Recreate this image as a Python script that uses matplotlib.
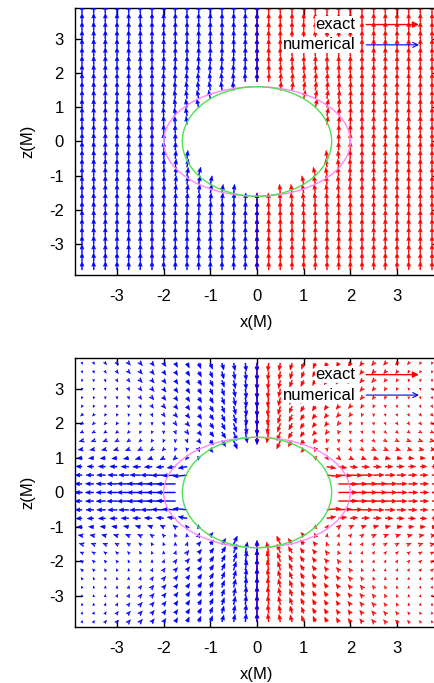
import numpy as np
import matplotlib
matplotlib.use("Agg")
import matplotlib.pyplot as plt
from matplotlib.patches import Ellipse

plt.rcParams['font.family'] = ['Liberation Sans', 'DejaVu Sans']
plt.rcParams['axes.unicode_minus'] = False

nan = np.nan

# grid of the vector plots (one quadrant, x >= 0 and z >= 0), units of M
x_grid = [0, 0.25, 0.5, 0.75, 1.0, 1.25, 1.5, 1.75, 2.0, 2.25, 2.5, 2.75, 3.0, 3.25, 3.5, 3.75]
z_grid = [0, 0.25, 0.5, 0.75, 1.0, 1.25, 1.5, 1.75, 2.0, 2.25, 2.5, 2.75, 3.0, 3.25, 3.5, 3.75]

# horizon and ergosphere
horizon_r = 1.6
ergo_x, ergo_z = 2.0, 1.6

# upper panel: magnetic field arrows, quadrant rows from z=3.75 (top) down to z=0
b_dx = [
    [0, 0, 0, 0, 0, 0, 0, 0, 0, 0, 0, 0, 0, 0, 0, 0],
    [0, 0, 0, 0, 0, 0, 0, 0, 0, 0, 0, 0, 0, 0, 0, 0],
    [0, 0, 0, 0, 0, 0, 0, 0, 0, 0, 0, 0, 0, 0, 0, 0],
    [0, 0, 0, 0, 0, 0, 0, 0, 0, 0, 0, 0, 0, 0, 0, 0],
    [0, 0, 0, 0, 0, 0, 0, 0, 0, 0, 0, 0, 0, 0, 0, 0],
    [0, 0, 0, 0, 0, 0, 0, 0, 0, 0, 0, 0, 0, 0, 0, 0],
    [0, 0, 0.005, 0.005, 0.005, 0.005, 0, 0, 0, 0, 0, 0, 0, 0, 0, 0],
    [0, 0.005, 0.01, 0.012, 0.012, 0.01, 0.008, 0.005, 0, 0, 0, 0, 0, 0, 0, 0],
    [0, 0.01, 0.015, 0.02, 0.02, 0.02, 0.015, 0.01, 0.005, 0, 0, 0, 0, 0, 0, 0],
    [nan, nan, 0.02, 0.025, 0.03, 0.025, 0.02, 0.015, 0.01, 0, 0, 0, 0, 0, 0, 0],
    [nan, nan, nan, nan, 0.04, 0.035, 0.025, 0.02, 0.01, 0, 0, 0, 0, 0, 0, 0],
    [nan, nan, nan, nan, nan, 0.045, 0.03, 0.02, 0.01, 0, 0, 0, 0, 0, 0, 0],
    [nan, nan, nan, nan, nan, nan, 0.03, 0.02, 0.01, 0, 0, 0, 0, 0, 0, 0],
    [nan, nan, nan, nan, nan, nan, 0.02, 0.015, 0.005, 0, 0, 0, 0, 0, 0, 0],
    [nan, nan, nan, nan, nan, nan, nan, 0.005, 0, 0, 0, 0, 0, 0, 0, 0],
    [nan, nan, nan, nan, nan, nan, nan, 0, 0, 0, 0, 0, 0, 0, 0, 0],
]
b_dz = [
    [0.25, 0.25, 0.25, 0.25, 0.25, 0.25, 0.25, 0.25, 0.25, 0.25, 0.25, 0.25, 0.25, 0.25, 0.25, 0.25],
    [0.25, 0.25, 0.25, 0.25, 0.25, 0.25, 0.25, 0.25, 0.25, 0.25, 0.25, 0.25, 0.25, 0.25, 0.25, 0.25],
    [0.25, 0.25, 0.25, 0.25, 0.25, 0.25, 0.25, 0.25, 0.25, 0.25, 0.25, 0.25, 0.25, 0.25, 0.25, 0.25],
    [0.25, 0.25, 0.25, 0.25, 0.25, 0.25, 0.25, 0.25, 0.25, 0.25, 0.25, 0.25, 0.25, 0.25, 0.25, 0.25],
    [0.25, 0.25, 0.25, 0.25, 0.25, 0.25, 0.25, 0.25, 0.25, 0.25, 0.25, 0.25, 0.25, 0.25, 0.25, 0.25],
    [0.25, 0.25, 0.25, 0.25, 0.25, 0.25, 0.25, 0.25, 0.25, 0.25, 0.25, 0.25, 0.25, 0.25, 0.25, 0.25],
    [0.25, 0.25, 0.25, 0.25, 0.25, 0.25, 0.25, 0.25, 0.25, 0.25, 0.25, 0.25, 0.25, 0.25, 0.25, 0.25],
    [0.25, 0.25, 0.25, 0.25, 0.25, 0.25, 0.25, 0.25, 0.25, 0.25, 0.25, 0.25, 0.25, 0.25, 0.25, 0.25],
    [0.25, 0.25, 0.25, 0.25, 0.25, 0.25, 0.25, 0.25, 0.25, 0.25, 0.25, 0.25, 0.25, 0.25, 0.25, 0.25],
    [nan, nan, 0.25, 0.25, 0.25, 0.25, 0.25, 0.25, 0.25, 0.25, 0.25, 0.25, 0.25, 0.25, 0.25, 0.25],
    [nan, nan, nan, nan, 0.25, 0.25, 0.25, 0.25, 0.25, 0.25, 0.25, 0.25, 0.25, 0.25, 0.25, 0.25],
    [nan, nan, nan, nan, nan, 0.25, 0.24, 0.25, 0.25, 0.25, 0.25, 0.25, 0.25, 0.25, 0.25, 0.25],
    [nan, nan, nan, nan, nan, nan, 0.24, 0.24, 0.25, 0.25, 0.25, 0.25, 0.25, 0.25, 0.25, 0.25],
    [nan, nan, nan, nan, nan, nan, 0.24, 0.24, 0.25, 0.25, 0.25, 0.25, 0.25, 0.25, 0.25, 0.25],
    [nan, nan, nan, nan, nan, nan, nan, 0.24, 0.25, 0.25, 0.25, 0.25, 0.25, 0.25, 0.25, 0.25],
    [nan, nan, nan, nan, nan, nan, nan, 0.24, 0.25, 0.25, 0.25, 0.25, 0.25, 0.25, 0.25, 0.25],
]

# lower panel: electric field arrows, same quadrant layout
e_dx = [
    [0, -0.02, -0.03, -0.04, -0.05, -0.05, -0.05, -0.05, -0.05, -0.05, -0.045, -0.04, -0.035, -0.026, -0.017, -0.01],
    [0, -0.02, -0.03, -0.04, -0.05, -0.06, -0.06, -0.05, -0.05, -0.05, -0.045, -0.039, -0.03, -0.019, -0.012, -0.006],
    [0, -0.02, -0.04, -0.05, -0.06, -0.06, -0.06, -0.058, -0.053, -0.049, -0.044, -0.032, -0.021, -0.012, -0.005, 0],
    [0, -0.024, -0.04, -0.05, -0.056, -0.06, -0.064, -0.059, -0.054, -0.048, -0.038, -0.025, -0.013, -0.005, 0.001, 0.007],
    [0, -0.024, -0.043, -0.054, -0.062, -0.065, -0.062, -0.057, -0.053, -0.042, -0.027, -0.014, -0.004, 0.003, 0.008, 0.012],
    [0, -0.028, -0.048, -0.058, -0.065, -0.067, -0.063, -0.057, -0.046, -0.03, -0.015, -0.003, 0.005, 0.01, 0.014, 0.02],
    [0, -0.031, -0.053, -0.065, -0.069, -0.068, -0.06, -0.051, -0.034, -0.015, -0.003, 0.006, 0.012, 0.018, 0.025, 0.031],
    [0, -0.038, -0.063, -0.068, -0.075, -0.068, -0.056, -0.036, -0.016, -0.002, 0.008, 0.015, 0.023, 0.029, 0.033, 0.038],
    [0, -0.045, -0.072, -0.078, -0.075, -0.064, -0.041, -0.017, 0, 0.01, 0.019, 0.026, 0.032, 0.037, 0.041, 0.043],
    [nan, nan, -0.077, -0.083, -0.075, -0.052, -0.018, 0.002, 0.015, 0.025, 0.034, 0.042, 0.049, 0.055, 0.058, 0.064],
    [nan, nan, nan, nan, -0.062, -0.021, 0.007, 0.021, 0.034, 0.045, 0.06, 0.072, 0.078, 0.081, 0.082, 0.083],
    [nan, nan, nan, nan, nan, 0.012, 0.032, 0.054, 0.078, 0.096, 0.11, 0.112, 0.114, 0.113, 0.11, 0.109],
    [nan, nan, nan, nan, nan, nan, 0.19, 0.176, 0.161, 0.164, 0.164, 0.163, 0.157, 0.15, 0.14, 0.133],
    [nan, nan, nan, nan, nan, nan, 0.298, 0.28, 0.26, 0.24, 0.224, 0.213, 0.198, 0.184, 0.167, 0.15],
    [nan, nan, nan, nan, nan, nan, nan, 0.40, 0.355, 0.316, 0.278, 0.248, 0.218, 0.198, 0.178, 0.158],
    [nan, nan, nan, nan, nan, nan, nan, 0.40, 0.36, 0.32, 0.28, 0.25, 0.22, 0.20, 0.18, 0.16],
]
e_dz = [
    [-0.25, -0.24, -0.22, -0.20, -0.18, -0.16, -0.14, -0.12, -0.10, -0.09, -0.075, -0.063, -0.052, -0.05, -0.043, -0.04],
    [-0.26, -0.25, -0.23, -0.21, -0.18, -0.15, -0.13, -0.11, -0.10, -0.085, -0.071, -0.058, -0.054, -0.046, -0.043, -0.04],
    [-0.27, -0.26, -0.24, -0.20, -0.18, -0.15, -0.13, -0.113, -0.096, -0.078, -0.065, -0.055, -0.051, -0.046, -0.042, -0.04],
    [-0.28, -0.27, -0.237, -0.20, -0.171, -0.148, -0.13, -0.11, -0.09, -0.074, -0.061, -0.057, -0.048, -0.045, -0.04, -0.039],
    [-0.29, -0.28, -0.241, -0.203, -0.169, -0.146, -0.122, -0.099, -0.081, -0.065, -0.059, -0.053, -0.048, -0.042, -0.039, -0.038],
    [-0.30, -0.279, -0.245, -0.202, -0.168, -0.137, -0.114, -0.091, -0.069, -0.061, -0.054, -0.05, -0.045, -0.041, -0.039, -0.038],
    [-0.32, -0.298, -0.249, -0.20, -0.155, -0.128, -0.10, -0.076, -0.064, -0.056, -0.05, -0.045, -0.043, -0.041, -0.04, -0.039],
    [-0.34, -0.308, -0.252, -0.188, -0.153, -0.117, -0.086, -0.067, -0.058, -0.052, -0.047, -0.046, -0.045, -0.041, -0.038, -0.032],
    [-0.36, -0.317, -0.25, -0.184, -0.141, -0.102, -0.074, -0.063, -0.055, -0.049, -0.046, -0.042, -0.038, -0.033, -0.029, -0.025],
    [nan, nan, -0.238, -0.171, -0.124, -0.083, -0.068, -0.06, -0.053, -0.049, -0.043, -0.04, -0.035, -0.031, -0.026, -0.023],
    [nan, nan, nan, nan, -0.091, -0.077, -0.065, -0.056, -0.05, -0.047, -0.043, -0.038, -0.031, -0.025, -0.019, -0.015],
    [nan, nan, nan, nan, nan, -0.069, -0.062, -0.063, -0.056, -0.049, -0.04, -0.028, -0.02, -0.014, -0.008, -0.004],
    [nan, nan, nan, nan, nan, nan, -0.05, -0.037, -0.023, -0.014, -0.009, -0.003, 0.003, 0.005, 0.007, 0.007],
    [nan, nan, nan, nan, nan, nan, -0.031, -0.015, -0.005, 0.004, 0.008, 0.007, 0.007, 0.006, 0.006, 0.005],
    [nan, nan, nan, nan, nan, nan, nan, -0.007, 0, 0.004, 0.004, 0.004, 0.003, 0.003, 0.003, 0.002],
    [nan, nan, nan, nan, nan, nan, nan, 0, 0, 0, 0, 0, 0, 0, 0, 0],
]

ticks = [-3, -2, -1, 0, 1, 2, 3]


def unfold(qu, qv, u_zsign, v_zsign):
    # quadrant rows go top->bottom; build the full z range from -3.75 to 3.75
    u = np.array(qu, dtype=float)[::-1]
    v = np.array(qv, dtype=float)[::-1]
    u = np.vstack([u_zsign * u[:0:-1], u])
    v = np.vstack([v_zsign * v[:0:-1], v])
    return u, v


def draw_panel(ax, qu, qv, u_zsign, v_zsign):
    xr = np.array(x_grid)
    zq = np.array(z_grid)
    zf = np.concatenate([-zq[:0:-1], zq])
    u, v = unfold(qu, qv, u_zsign, v_zsign)

    Xr, Z = np.meshgrid(xr, zf)
    Xl, _ = np.meshgrid(-xr[::-1], zf)
    ul, vl = -u[:, ::-1], v[:, ::-1]

    kw = dict(angles='xy', scale_units='xy', scale=1, units='dots', width=1.0,
              headwidth=4, headlength=5, headaxislength=4.5, minshaft=0.6, minlength=0,
              pivot='tail', linewidth=0.3)
    ax.quiver(Xr, Z, u, v, color='#ff0000', edgecolor='#ff0000', zorder=2, **kw)
    ax.quiver(Xl, Z, ul, vl, color='#0000ff', edgecolor='#0000ff', zorder=3, **kw)

    ax.add_patch(Ellipse((0, 0), 2 * ergo_x, 2 * ergo_z, fill=False,
                         ec='#ff88ff', lw=1.0, zorder=4))
    ax.add_patch(Ellipse((0, 0), 2 * horizon_r, 2 * horizon_r, fill=False,
                         ec='#4fe04f', lw=1.0, zorder=5))

    ax.set_xlim(-3.9, 3.9)
    ax.set_ylim(-3.9, 3.9)
    ax.set_xticks(ticks)
    ax.set_yticks(ticks)
    ax.tick_params(direction='in', top=True, right=True, length=5, width=1,
                   labelsize=12, pad=10)
    ax.tick_params(axis='y', pad=8)
    for s in ax.spines.values():
        s.set_linewidth(1.0)
    ax.set_xlabel('x(M)', fontsize=12, labelpad=8)
    ax.set_ylabel('z(M)', fontsize=12, labelpad=10)

    # key
    ax.text(0.77, 0.938, 'exact', transform=ax.transAxes, ha='right', va='center',
            fontsize=12, zorder=6,
            bbox=dict(fc='white', ec='none', pad=0.5))
    ax.text(0.77, 0.862, 'numerical', transform=ax.transAxes, ha='right', va='center',
            fontsize=12, zorder=6,
            bbox=dict(fc='white', ec='none', pad=0.5))
    ax.annotate('', xy=(0.945, 0.938), xytext=(0.80, 0.938), xycoords='axes fraction',
                arrowprops=dict(arrowstyle='-|>', color='#ff0000', lw=1.0,
                                mutation_scale=9, shrinkA=0, shrinkB=0), zorder=6)
    ax.annotate('', xy=(0.945, 0.862), xytext=(0.80, 0.862), xycoords='axes fraction',
                arrowprops=dict(arrowstyle='->', color='#0000ff', lw=0.8,
                                mutation_scale=9, shrinkA=0, shrinkB=0), zorder=6)


fig = plt.figure(figsize=(4.35, 6.83), dpi=100)
ax1 = fig.add_axes([0.1724, 0.5974, 0.8368, 0.3909])
ax2 = fig.add_axes([0.1724, 0.0820, 0.8368, 0.3939])

# magnetic field: x-component odd in z, z-component even in z
draw_panel(ax1, b_dx, b_dz, -1, 1)
# electric field: x-component even in z, z-component odd in z
draw_panel(ax2, e_dx, e_dz, 1, -1)

fig.savefig('out.png', dpi=100)
